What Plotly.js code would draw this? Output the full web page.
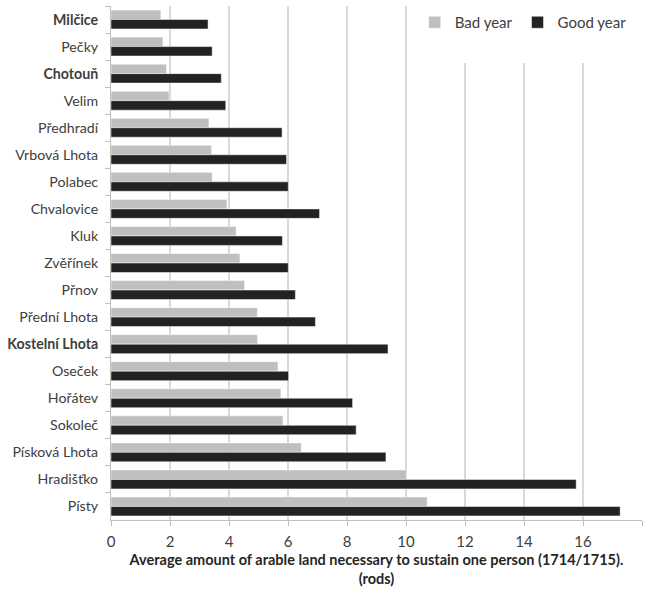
<!DOCTYPE html>
<html><head><meta charset="utf-8">
<script src="https://cdn.plot.ly/plotly-3.0.1.min.js"></script>
<style>html,body{margin:0;padding:0;background:#fff}</style>
</head><body>
<div id="chart" style="width:649px;height:589px"></div>
<script>
const villages = ["<b>Milčice</b>","Pečky","<b>Chotouň</b>","Velim","Předhradí","Vrbová Lhota","Polabec","Chvalovice","Kluk","Zvěřínek","Přnov","Přední Lhota","<b>Kostelní Lhota</b>","Oseček","Hořátev","Sokoleč","Písková Lhota","Hradišťko","Písty"];
const badYear = [1.69,1.76,1.88,1.97,3.32,3.41,3.43,3.93,4.24,4.37,4.53,4.96,4.97,5.66,5.76,5.83,6.45,10.01,10.72];
const goodYear = [3.29,3.43,3.74,3.89,5.80,5.95,6.01,7.07,5.81,6.01,6.25,6.93,9.39,6.02,8.19,8.31,9.32,15.77,17.26];
const xTicks = [0,2,4,6,8,10,12,14,16,18];

const font = "Lato, Open Sans, sans-serif";
const data = [
  {type:"bar", orientation:"h", name:"Bad year", y:villages, x:badYear,
   marker:{color:"#bfbfbf", line:{color:"#ffffff", width:0.5}}},
  {type:"bar", orientation:"h", name:"Good year", y:villages, x:goodYear,
   marker:{color:"#222222", line:{color:"#ffffff", width:0.5}}}
];
const layout = {
  width:649, height:589,
  margin:{l:111, r:7, t:6, b:69},
  paper_bgcolor:"#fff", plot_bgcolor:"#fff",
  barmode:"group", bargap:0.3, bargroupgap:0,
  font:{family:font, size:14, color:"#404040"},
  showlegend:true,
  legend:{orientation:"h", x:0.572, y:1.0, xanchor:"left", yanchor:"top",
          bgcolor:"rgba(255,255,255,0)", font:{size:15, color:"#404040"},
          traceorder:"normal", itemwidth:30},
  xaxis:{range:[0,18], tickvals:xTicks, ticktext:xTicks.map(String),
         showgrid:true, gridcolor:"#d9d9d9", gridwidth:1.5,
         zeroline:false, showline:true, linecolor:"#bfbfbf", linewidth:1,
         ticks:"outside", ticklen:5, tickcolor:"#bfbfbf", ticklabelstandoff:3,
         tickfont:{size:15, color:"#404040"},
         title:{text:"<b>Average amount of arable land necessary to sustain one person (1714/1715).<br>(rods)</b>",
                font:{size:14.5, color:"#262626"}, standoff:5}},
  yaxis:{type:"category", autorange:"reversed", showgrid:false,
         showline:true, linecolor:"#bfbfbf", linewidth:1,
         ticks:"outside", ticklen:5, tickcolor:"#bfbfbf", tickson:"boundaries",
         ticklabelstandoff:9,
         tickfont:{size:14.2, color:"#404040"}},
  shapes:[{type:"rect", xref:"x", yref:"paper", x0:10.3, x1:17.75, y0:0.889, y1:1.02,
           fillcolor:"#ffffff", line:{width:0}, layer:"above"}]
};
Plotly.newPlot("chart", data, layout, {displayModeBar:false});
</script>
</body></html>
